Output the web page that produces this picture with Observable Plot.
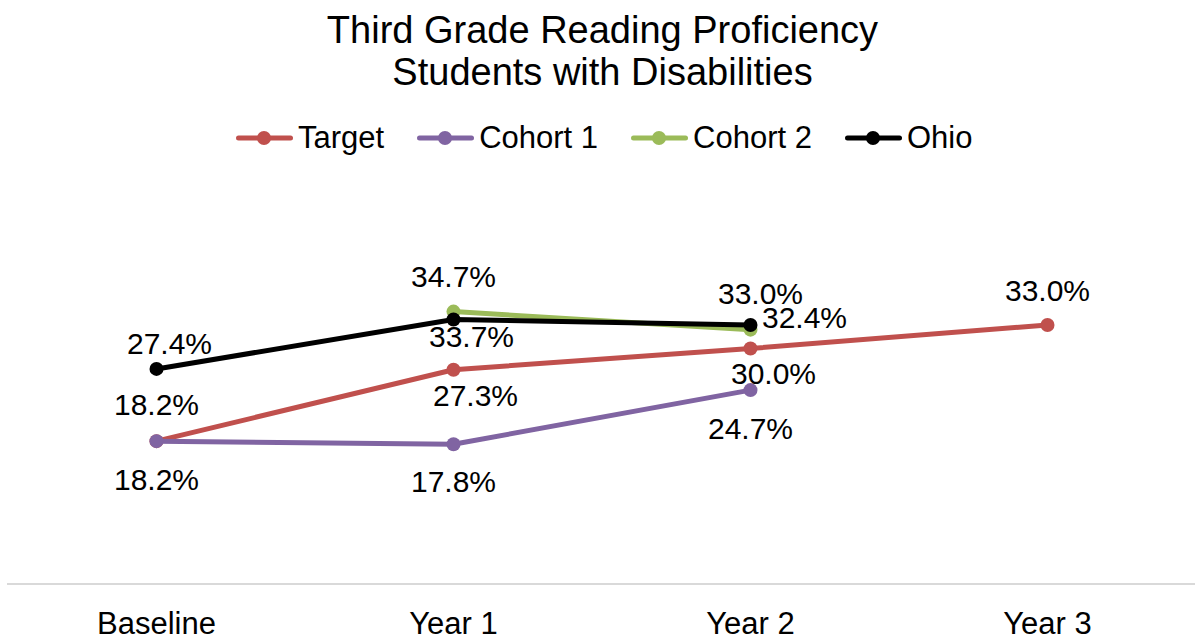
<!DOCTYPE html>
<html>
<head>
<meta charset="utf-8">
<script src="https://cdn.jsdelivr.net/npm/d3@7"></script>
<script src="https://cdn.jsdelivr.net/npm/@observablehq/plot@0.6"></script>
<style>
  html, body { margin: 0; padding: 0; background: #fff; }
  body { width: 1195px; height: 637px; position: relative; overflow: hidden; font-family: "Liberation Sans", Arial, sans-serif; color: #000; }
  #title { position: absolute; top: 9px; left: 0; width: 1205px; text-align: center; font-size: 38px; line-height: 42px; }
  #legend { position: absolute; top: 115px; left: 236px; height: 46px; display: flex; align-items: center; font-size: 31px; white-space: nowrap; }
  .item { display: flex; align-items: center; margin-right: 33px; }
  .item svg { margin-right: 5px; }
  #chart { position: absolute; top: 165px; left: 0; }
</style>
</head>
<body>
<div id="title">Third Grade Reading Proficiency<br>Students with Disabilities</div>
<div id="legend"></div>
<div id="chart"></div>
<script>
// ---- data ----
const categories = ["Baseline", "Year 1", "Year 2", "Year 3"];
const seriesNames = ["Target", "Cohort 1", "Cohort 2", "Ohio"];
const target  = [18.2, 27.3, 30.0, 33.0];
const cohort1 = [18.2, 17.8, 24.7, null];
const cohort2 = [null, 34.7, 32.4, null];
const ohio    = [27.4, 33.7, 33.0, null];
const colors  = ["#C0504D", "#8064A2", "#9BBB59", "#000000"];

// label nudges (dx, dy in px) per series/category, as placed in the original
const labelDx = [[0, 22, 23, 0], [0, 0, 0, 0], [0, 0, 54, 0], [13, 18, 10, 0]];
const labelDy = [[-36, 27, 26, -34], [39, 38, 39, 0], [0, -34, -11, 0], [-25, 18, -31, 0]];

const values = [target, cohort1, cohort2, ohio];
const rows = [];
values.forEach((vals, s) => {
  vals.forEach((v, i) => {
    if (v != null) rows.push({series: seriesNames[s], cat: categories[i], value: v, dx: labelDx[s][i], dy: labelDy[s][i]});
  });
});

// ---- legend ----
const legend = document.getElementById("legend");
seriesNames.forEach((name, s) => {
  const item = document.createElement("div");
  item.className = "item";
  item.innerHTML = `<svg width="57" height="20"><line x1="2.5" y1="10" x2="54.5" y2="10" stroke="${colors[s]}" stroke-width="5" stroke-linecap="round"/><circle cx="28" cy="10" r="7" fill="${colors[s]}"/></svg><span>${name}</span>`;
  legend.appendChild(item);
});

// ---- chart ----
const marks = [
  Plot.ruleY([0], {stroke: "#D9D9D9", strokeWidth: 2}),
  Plot.axisX({tickSize: 0, tickPadding: 28, fontSize: 31, label: null, fill: "#000"})
];
seriesNames.forEach((name, s) => {
  const d = rows.filter(r => r.series === name);
  marks.push(Plot.line(d, {x: "cat", y: "value", stroke: colors[s], strokeWidth: 5, strokeLinecap: "round", strokeLinejoin: "round"}));
  marks.push(Plot.dot(d, {x: "cat", y: "value", fill: colors[s], r: 7}));
});
seriesNames.forEach((name, s) => {
  rows.filter(r => r.series === name).forEach(r => {
    marks.push(Plot.text([r], {x: "cat", y: "value", text: d => d.value.toFixed(1) + "%", dx: r.dx, dy: r.dy, fontSize: 30, fill: "#000", lineAnchor: "middle"}));
  });
});

const chart = Plot.plot({
  width: 1195,
  height: 472,
  marginLeft: 7,
  marginRight: -1,
  marginTop: 104.5,
  marginBottom: 53.5,
  style: {fontFamily: "'Liberation Sans', Arial, sans-serif", background: "transparent", overflow: "visible"},
  x: {type: "point", domain: categories, padding: 0.5},
  y: {domain: [0, 40], axis: null},
  marks
});
document.getElementById("chart").appendChild(chart);
</script>
</body>
</html>
